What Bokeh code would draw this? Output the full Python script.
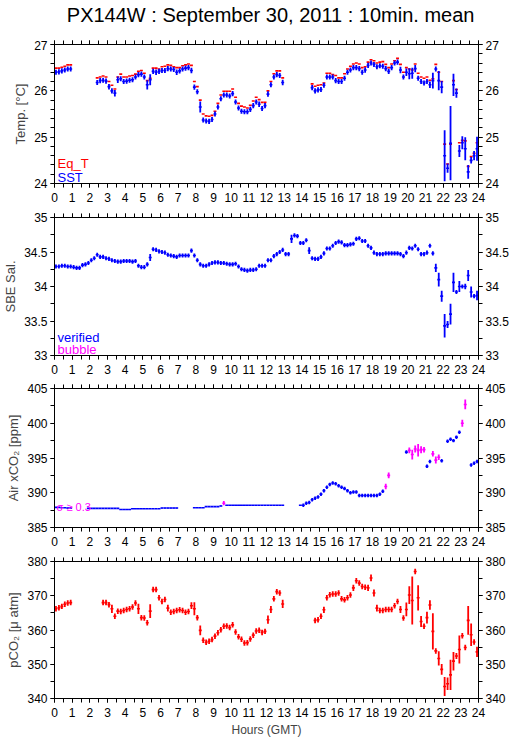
import numpy as np
from bokeh.plotting import figure
from bokeh.layouts import column
from bokeh.models import (Range1d, LinearAxis, FixedTicker, CustomJSTickFormatter,
                          Label, ColumnDataSource)
from bokeh.embed import file_html
from bokeh.resources import INLINE

FONT = "Liberation Sans"
N = 144            # 10-minute slots in a day
SLOT = 1.0 / 6.0   # hours per slot
_ = None

# ---------------- data (one row = one hour, six 10-min means) ----------------
eq_t = [
    26.49, 26.49, 26.51, 26.53, 26.56, 26.56,
    _, _, _, _, _, _,
    _, _, 26.28, 26.30, 26.32, 26.30,
    26.20, 26.12, 26.04, 26.30, 26.36, 26.30,
    26.30, 26.32, 26.33, 26.36, 26.42, 26.44,
    26.38, 26.22, 26.27, 26.49, 26.49, 26.47,
    26.52, 26.53, 26.56, 26.55, 26.52, 26.50,
    26.50, 26.54, 26.56, 26.58, 26.55, 26.20,
    26.09, 25.80, 25.50, 25.46, 25.45, 25.47,
    25.56, 25.73, 25.91, 25.99, 25.99, 25.99,
    26.04, 25.86, 25.73, 25.67, 25.65, 25.63,
    25.69, 25.78, 25.86, 25.81, 25.75, 25.75,
    26.00, 26.20, 26.37, 26.43, 26.43, 26.28,
    _, _, _, _, _, _,
    _, _, _, 26.15, 26.10, 26.12,
    26.13, 26.17, 26.38, 26.38, 26.35, 26.33,
    26.28, 26.28, 26.37, 26.47, 26.53, 26.58,
    26.60, 26.58, 26.50, 26.52, 26.62, 26.67,
    26.65, 26.60, 26.62, 26.63, 26.57, 26.50,
    26.58, 26.65, 26.70, 26.57, 26.40, 26.50,
    26.47, 26.45, 26.58, 26.38, 26.30, 26.27,
    26.30, 26.23, 26.26, 26.57, 26.40, 26.20,
    24.85, 24.42, 24.85, 26.22, 26.03, 24.88,
    24.93, 24.92, 24.37, 24.58, 24.65, 24.88,
]
sst = [
    26.40, 26.41, 26.43, 26.45, 26.47, 26.47,
    _, _, _, _, _, _,
    _, _, 26.18, 26.22, 26.23, 26.21,
    26.09, 26.00, 25.95, 26.24, 26.26, 26.20,
    26.21, 26.23, 26.24, 26.30, 26.35, 26.36,
    26.30, 26.13, 26.24, 26.42, 26.40, 26.42,
    26.44, 26.44, 26.48, 26.47, 26.46, 26.40,
    26.43, 26.47, 26.49, 26.50, 26.44, 26.08,
    25.98, 25.65, 25.37, 25.35, 25.34, 25.38,
    25.50, 25.65, 25.83, 25.91, 25.91, 25.89,
    25.94, 25.76, 25.63, 25.56, 25.55, 25.55,
    25.60, 25.68, 25.76, 25.71, 25.62, 25.68,
    25.93, 26.13, 26.30, 26.35, 26.33, 26.18,
    _, _, _, _, _, _,
    _, _, _, 26.07, 26.00, 26.02,
    26.03, 26.12, 26.30, 26.30, 26.30, 26.22,
    26.20, 26.20, 26.27, 26.40, 26.45, 26.50,
    26.50, 26.48, 26.40, 26.45, 26.55, 26.60,
    26.57, 26.52, 26.54, 26.53, 26.48, 26.42,
    26.50, 26.60, 26.62, 26.45, 26.30, 26.40,
    26.37, 26.38, 26.48, 26.27, 26.20, 26.17,
    26.20, 26.13, 26.22, 26.47, 26.22, 26.08,
    24.60, 24.33, 24.87, 26.13, 25.95, 24.70,
    24.88, 24.75, 24.25, 24.50, 24.60, 24.75,
]
sst_sd = [
    .055, .055, .055, .055, .055, .055,
    .055, .055, .055, .055, .055, .055,
    .055, .055, .055, .055, .055, .055,
    .06, .055, .07, .07, .055, .055,
    .055, .055, .055, .055, .055, .055,
    .055, .10, .12, .055, .06, .055,
    .055, .055, .055, .055, .055, .06,
    .055, .055, .055, .055, .06, .055,
    .055, .12, .055, .055, .055, .055,
    .055, .055, .055, .055, .055, .055,
    .055, .055, .055, .055, .055, .055,
    .055, .055, .055, .06, .055, .055,
    .06, .055, .055, .055, .055, .06,
    .055, .055, .055, .055, .055, .055,
    .055, .055, .055, .055, .055, .055,
    .055, .055, .055, .055, .055, .055,
    .055, .055, .055, .055, .055, .055,
    .055, .055, .055, .06, .055, .055,
    .055, .055, .055, .055, .055, .055,
    .055, .055, .055, .07, .055, .08,
    .12, .12, .08, .055, .055, .055,
    .055, .07, .17, .055, .21, .13,
    .55, .10, .80, .24, .10, .13,
    .14, .25, .15, .07, .10, .26,
]
sal = [
    34.29, 34.29, 34.30, 34.30, 34.29, 34.29,
    34.28, 34.27, 34.27, 34.31, 34.32, 34.34,
    34.38, 34.41, 34.46, 34.43, 34.43, 34.41,
    34.40, 34.38, 34.37, 34.36, 34.36, 34.37,
    34.37, 34.37, 34.36, 34.37, 34.30, 34.28,
    34.28, 34.32, 34.42, 34.54, 34.53, 34.51,
    34.50, 34.49, 34.46, 34.45, 34.44, 34.43,
    34.45, 34.45, 34.45, 34.45, 34.52, 34.45,
    34.38, 34.32, 34.30, 34.30, 34.32, 34.34,
    34.35, 34.35, 34.34, 34.34, 34.33, 34.32,
    34.32, 34.33, 34.29, 34.25, 34.24, 34.23,
    34.24, 34.24, 34.25, 34.30, 34.30, 34.30,
    34.38, 34.38, 34.44, 34.47, 34.50, 34.53,
    34.47, 34.47, 34.69, 34.74, 34.73, 34.63,
    34.63, 34.67, 34.52, 34.41, 34.40, 34.40,
    34.43, 34.48, 34.55, 34.55, 34.59, 34.63,
    34.65, 34.64, 34.60, 34.60, 34.61, 34.62,
    34.69, 34.70, 34.66, 34.66, 34.59, 34.56,
    34.49, 34.47, 34.47, 34.47, 34.48, 34.48,
    34.48, 34.48, 34.48, 34.47, 34.44, 34.49,
    34.56, 34.55, 34.59, 34.54, 34.47, 34.47,
    34.49, 34.59, 34.48, 34.27, 34.10, 33.86,
    33.43, 33.45, 33.60, 34.06, 33.92, 34.00,
    34.00, 34.00, 34.16, 33.92, 33.86, 33.87,
]
sal_sd = [.03] * 32 + [.05] + [.03] * 47 + [.06] + [.03] * 5 + [.05] + [.03] * 40 + [
    .03, .03, .06, .10, .08,
    .17, .05, .15, .14, .03, .08,
    .03, .04, .08, .08, .03, .07,
]
air = [
    387.9, 387.9, 387.85, 387.85, 387.8, 387.8,
    _, _, _, _, _, 387.75,
    387.75, 387.75, 387.75, 387.75, 387.75, 387.75,
    387.75, 387.75, 387.75, 387.75, 387.6, 387.6,
    387.6, 387.6, 387.7, 387.7, 387.7, 387.7,
    387.7, 387.7, 387.7, 387.7, 387.7, 387.7,
    387.8, 387.8, 387.8, 387.8, 387.8, 387.8,
    _, _, _, _, _, 387.85,
    387.85, 387.85, 387.85, 388.0, 388.0, 388.0,
    388.0, 388.0, 388.1, 388.5, 388.2, 388.2,
    388.2, 388.2, 388.2, 388.2, 388.2, 388.2,
    388.2, 388.2, 388.2, 388.2, 388.2, 388.2,
    388.2, 388.2, 388.2, 388.2, 388.2, 388.2,
    _, _, _, _, _, 388.2,
    388.2, 388.5, 388.6, 389.0, 389.2, 389.4,
    389.8, 390.3, 390.8, 391.2, 391.4, 391.3,
    391.0, 390.8, 390.6, 390.3, 390.0, 390.1,
    390.1, 389.6, 389.6, 389.6, 389.6, 389.6,
    389.6, 389.6, 389.8, 390.2, 390.9, 392.5,
    _, _, _, _, _, 395.85,
    396.1, 395.5, 396.3, 396.1, 396.2, 396.2,
    393.8, 394.5, 395.6, 394.7, 395.1, 394.6,
    _, 397.4, 397.7, 397.5, 398.0, 398.7,
    400.0, 402.7, _, 394.0, 394.25, 394.5,
]
air_sd = [.05] * 57 + [.3] + [.05] * 26 + [.25] * 28 + [.4, .4] + [.25] * 6 + [
    .4, .7, .5, .9, .5, .4,
    .25, .25, .4, .5, .4, .25,
    .25, .25, .25, .25, .25, .25,
    .5, .7, .25, .25, .25, .25,
]
pco2 = [
    366.2, 366.5, 366.9, 367.5, 367.9, 368.0,
    _, _, _, _, _, _,
    _, _, _, _, 368.0, 368.0,
    367.4, 366.2, 364.0, 365.5, 365.4, 365.7,
    366.0, 366.2, 366.7, 367.9, 366.2, 363.6,
    363.5, 362.1, 365.5, 371.8, 371.8, 369.4,
    368.3, 368.9, 366.4, 365.2, 365.4, 365.7,
    365.9, 365.7, 365.2, 365.4, 367.1, 366.2,
    363.6, 359.9, 357.0, 356.4, 356.7, 357.2,
    358.2, 359.2, 360.1, 361.1, 361.2, 360.7,
    361.5, 359.4, 358.0, 357.3, 356.2, 356.3,
    357.4, 358.5, 359.7, 359.9, 359.3, 359.6,
    363.0, 366.0, 369.1, 371.2, 370.8, 367.6,
    _, _, _, _, _, _,
    _, _, _, _, 362.8, 363.0,
    364.0, 365.9, 369.4, 370.3, 370.5, 370.5,
    370.8, 369.1, 368.8, 369.4, 370.2, 372.3,
    374.4, 373.7, 372.7, 372.5, 372.3, 375.2,
    370.8, 366.4, 365.7, 365.7, 366.0, 366.0,
    366.0, 367.1, 368.3, 366.0, 363.5, 366.0,
    370.2, 368.6, 377.1, 369.4, 362.5, 361.1,
    363.6, 367.3, 359.6, 353.9, 351.7, 348.5,
    343.5, 344.3, 346.9, 350.9, 352.4, 354.3,
    358.3, 354.9, 362.8, 358.6, 356.5, 353.6,
]
pco2_sd = [
    .8, .8, .8, .8, .8, .8,
    .8, .8, .8, .8, .8, .8,
    .8, .8, .8, .8, .8, .8,
    .8, 1.2, .8, .8, .8, .8,
    .8, .8, .8, .8, 1.5, .8,
    .8, .8, 2.0, .8, .8, .8,
    .8, .8, 1.0, .8, .8, .8,
    .8, .8, .8, .8, 1.0, 1.9,
    .8, 1.4, .8, .8, .8, .8,
    .8, .8, .8, .8, .8, .8,
    .8, .8, .8, .8, .8, .8,
    .8, .8, .8, .8, .8, .8,
    1.2, 1.0, .8, .8, .8, 1.2,
    .8, .8, .8, .8, .8, .8,
    .8, .8, .8, .8, .8, .8,
    .8, .9, .8, .8, .8, .8,
    .8, .8, .8, .8, .8, .9,
    .8, .8, .8, .8, .9, 1.0,
    1.0, 1.0, .8, .8, .8, .8,
    .8, .8, .8, 1.0, .8, 2.0,
    2.6, 7.0, .8, 3.7, 1.6, .8,
    1.7, 1.4, 5.3, .8, 2.1, 1.6,
    2.8, 1.8, 4.4, 2.7, .9, 4.1,
    .8, .8, 4.2, 3.3, .8, 1.5,
]

title_text = "PX144W : September 30, 2011 : 10min. mean"
x_major = list(range(0, 25))
x_minor = [i * 0.5 for i in range(49)]

RED, BLUE, MAGENTA = "#ff0000", "#0000ff", "#ff00ff"
W = 515


def style_axis(ax, size="12px"):
    ax.axis_line_color = "black"
    ax.major_tick_line_color = "black"
    ax.minor_tick_line_color = "black"
    ax.major_tick_in = 0
    ax.major_tick_out = 4
    ax.minor_tick_in = 0
    ax.minor_tick_out = 4
    ax.major_label_text_font = FONT
    ax.major_label_text_font_size = size
    ax.major_label_text_color = "black"


def panel(height, top, bottom, yr, ymaj, ymin, ylabel, xlabel=None):
    p = figure(width=W, height=height, x_range=Range1d(0, 24), y_range=Range1d(*yr),
               output_backend="svg", toolbar_location=None,
               x_axis_location=None, y_axis_location=None,
               min_border_left=51, min_border_right=37,
               min_border_top=top, min_border_bottom=bottom,
               background_fill_color="white", border_fill_color="white")
    p.outline_line_color = "black"
    p.grid.grid_line_color = None
    for loc, show in (("below", True), ("above", False)):
        ax = LinearAxis(ticker=FixedTicker(ticks=x_major, minor_ticks=x_minor))
        style_axis(ax)
        if show:
            ax.major_label_standoff = 5
            if xlabel:
                ax.axis_label = xlabel
                ax.axis_label_text_font = FONT
                ax.axis_label_text_font_size = "12px"
                ax.axis_label_text_font_style = "normal"
                ax.axis_label_standoff = 3
        else:
            # ticks only on the top edge: no labels drawn
            ax.major_label_text_font_size = "0px"
            ax.major_label_text_color = None
            ax.major_label_standoff = 0
        p.add_layout(ax, loc)
    fmt = "return String(Number(tick.toFixed(3)));"
    for loc in ("left", "right"):
        ax = LinearAxis(ticker=FixedTicker(ticks=ymaj, minor_ticks=ymin),
                        formatter=CustomJSTickFormatter(code=fmt))
        style_axis(ax)
        ax.major_label_standoff = 3
        if loc == "left":
            ax.axis_label = ylabel
            ax.axis_label_text_font = FONT
            ax.axis_label_text_font_size = "13px"
            ax.axis_label_text_font_style = "normal"
            ax.axis_label_standoff = 3
        p.add_layout(ax, loc)
    return p


def draw(p, vals, sds, colors):
    v = np.array(vals, dtype=float)
    k = np.arange(N)
    m = ~np.isnan(v)
    start = k[m] * SLOT
    c = np.array(colors)[m]
    src = ColumnDataSource(dict(x0=start, x1=start + SLOT, xc=start + SLOT / 2,
                                y=v[m], c=c))
    p.segment(x0="x0", y0="y", x1="x1", y1="y", line_color="c",
              line_width=1.6, source=src)
    if sds is not None:
        s = np.array(sds, dtype=float)[m]
        src.data["lo"] = v[m] - s
        src.data["hi"] = v[m] + s
        p.segment(x0="xc", y0="lo", x1="xc", y1="hi", line_color="c",
                  line_width=1.8, source=src)


def text(p, x, y, t, color="black", size="13px", align="left"):
    p.add_layout(Label(x=x, y=y, text=t, text_color=color, text_font=FONT,
                       text_font_size=size, text_align=align,
                       text_baseline="alphabetic"))


# ---------------- title strip ----------------
p0 = figure(width=W, height=40, x_range=Range1d(0, W), y_range=Range1d(0, 40),
            output_backend="svg", toolbar_location=None,
            x_axis_location=None, y_axis_location=None, min_border=0,
            background_fill_color="white", border_fill_color="white")
p0.outline_line_color = None
p0.grid.grid_line_color = None
text(p0, 262.5, 25.5, title_text, size="20px", align="center")

# ---------------- panel 1: temperature ----------------
p1 = panel(170, 4, 27, (24, 27), [24, 25, 26, 27],
           [24 + 0.2 * i for i in range(16)], "Temp. [°C]")
draw(p1, eq_t, None, [RED] * N)
draw(p1, sst, sst_sd, [BLUE] * N)
text(p1, 0.17, 24.44, "Eq_T", RED)
text(p1, 0.17, 24.13, "SST", BLUE)

# ---------------- panel 2: salinity ----------------
p2 = panel(172, 7, 27, (33, 35), [33, 33.5, 34, 34.5, 35],
           [33 + 0.25 * i for i in range(9)], "SBE Sal.")
draw(p2, sal, sal_sd, [BLUE] * N)
text(p2, 0.17, 33.26, "verified", BLUE)
text(p2, 0.17, 33.085, "bubble", MAGENTA)

# ---------------- panel 3: air xCO2 ----------------
p3 = panel(172, 6, 27, (385, 405), [385, 390, 395, 400, 405],
           [385 + 2.5 * i for i in range(9)], "Air xCO₂ [ppm]")
air_col = [MAGENTA if s >= 0.3 else BLUE for s in air_sd]
draw(p3, air, air_sd, air_col)
text(p3, 0.12, 387.9, "σ ≥ 0.3", MAGENTA, size="11px")

# ---------------- panel 4: pCO2 ----------------
p4 = panel(185, 7, 40, (340, 380), [340, 350, 360, 370, 380],
           [340 + 5 * i for i in range(9)], "pCO₂ [μ atm]", "Hours (GMT)")
draw(p4, pco2, pco2_sd, [RED] * N)

layout = column(p0, p1, p2, p3, p4)
open("out.html", "w").write(file_html(layout, INLINE))
